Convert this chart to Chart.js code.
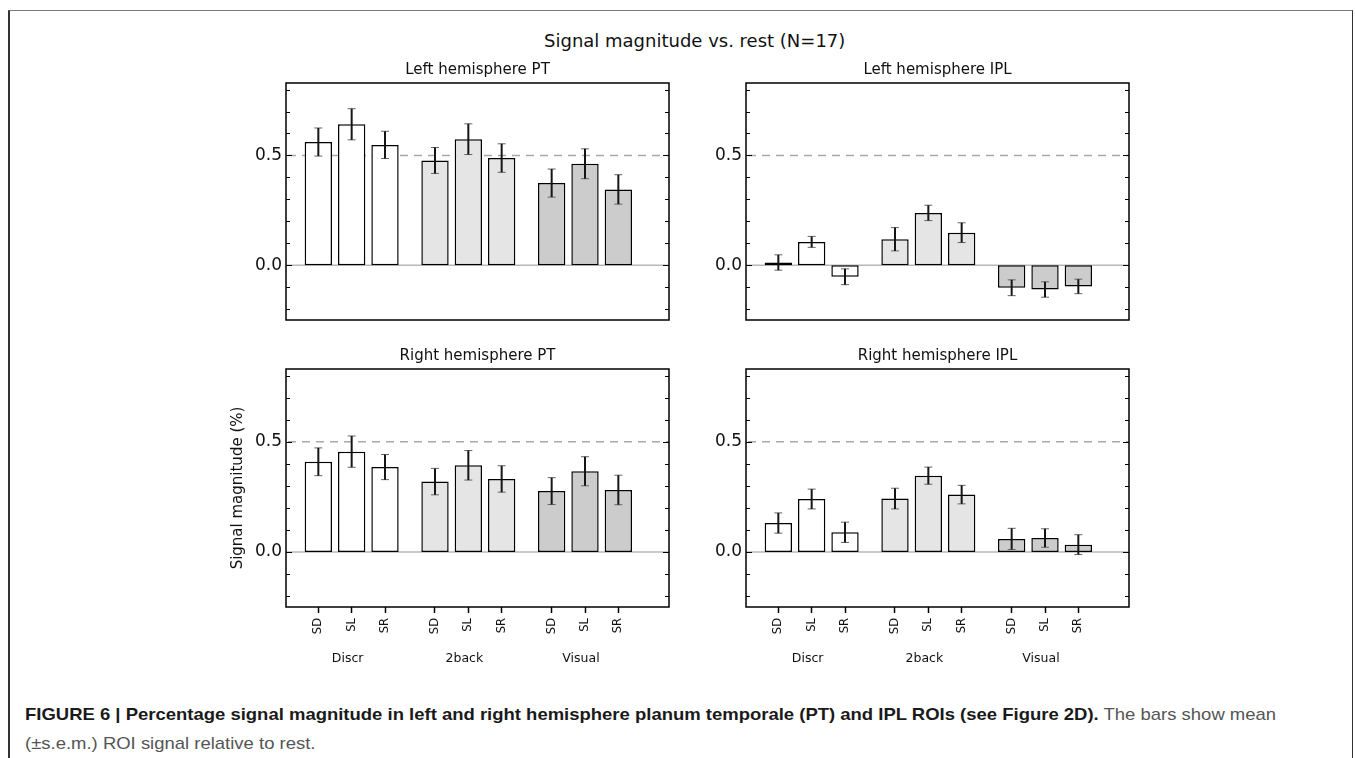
<!DOCTYPE html>
<html>
<head>
<meta charset="utf-8">
<script src="https://cdn.jsdelivr.net/npm/chart.js@4.4.1/dist/chart.umd.min.js"></script>
<style>
  html, body { margin: 0; padding: 0; background: #fff; }
  body { width: 1355px; height: 758px; position: relative; overflow: hidden; font-family: 'DejaVu Sans', sans-serif; }
  .frame { position: absolute; left: 8px; top: 10px; width: 1342px; height: 780px;
           border-top: 1.5px solid #7a7a7a; border-left: 2px solid #333; border-right: 1px solid #333; }
  canvas { position: absolute; }
  #mainTitle { position: absolute; left: 294.7px; width: 800px; top: 30px; text-align: center;
               font-size: 18px; line-height: 22px; color: #111; white-space: nowrap; }
  #caption { position: absolute; left: 25px; top: 700px; white-space: nowrap;
             font-family: 'Liberation Sans', Arial, sans-serif; font-size: 17px; line-height: 29px;
             color: #555; transform: scaleX(1.087); transform-origin: 0 0; }
  #caption b { color: #1a1a1a; }
</style>
</head>
<body>
<div class="frame"></div>
<div id="mainTitle">Signal magnitude vs. rest (N=17)</div>
<canvas id="lhPt"></canvas>
<canvas id="lhIpl"></canvas>
<canvas id="rhPt"></canvas>
<canvas id="rhIpl"></canvas>
<div id="caption"><b>FIGURE 6 | Percentage signal magnitude in left and right hemisphere planum temporale (PT) and IPL ROIs (see Figure 2D).</b> The bars show mean<br>(±s.e.m.) ROI signal relative to rest.</div>
<script>
const conditions = ['SD', 'SL', 'SR'];
const tasks = ['Discr', '2back', 'Visual'];
const yTickValues = [0, 0.5];
const refLevel = 0.5;

// means and s.e.m., order: Discr SD/SL/SR, 2back SD/SL/SR, Visual SD/SL/SR
const lhPtMean = [0.561, 0.642, 0.548, 0.477, 0.574, 0.488, 0.374, 0.462, 0.345];
const lhPtSem  = [0.064, 0.071, 0.062, 0.059, 0.070, 0.065, 0.064, 0.068, 0.067];
const lhIplMean = [0.012, 0.106, -0.053, 0.118, 0.238, 0.148, -0.103, -0.111, -0.097];
const lhIplSem  = [0.035, 0.025, 0.036, 0.053, 0.035, 0.045, 0.036, 0.035, 0.033];
const rhPtMean = [0.409, 0.455, 0.385, 0.319, 0.393, 0.331, 0.276, 0.366, 0.281];
const rhPtSem  = [0.063, 0.071, 0.057, 0.060, 0.067, 0.060, 0.061, 0.066, 0.067];
const rhIplMean = [0.131, 0.240, 0.089, 0.242, 0.346, 0.260, 0.059, 0.063, 0.033];
const rhIplSem  = [0.046, 0.045, 0.046, 0.047, 0.039, 0.042, 0.048, 0.042, 0.045];

const taskFills = ['#ffffff', '#e5e5e5', '#cccccc'];
const Y_AXIS_W = 86;
const TITLE_H = 22;

// bars sit one unit apart inside a task, tasks are 3.5 units apart
const xPos = [];
const xLabels = [];
tasks.forEach((t, g) => conditions.forEach((c, i) => { xPos.push(g * 3.5 + i); xLabels.push(c); }));

const decor = {
  id: 'decor',
  beforeDatasetsDraw(chart) {
    const { ctx, chartArea: a, scales: { y } } = chart;
    ctx.save();
    ctx.lineWidth = 1.5;
    ctx.strokeStyle = '#b8b8b8';
    const y0 = y.getPixelForValue(0);
    ctx.beginPath(); ctx.moveTo(a.left, y0); ctx.lineTo(a.right, y0); ctx.stroke();
    ctx.strokeStyle = '#a8a8a8';
    ctx.setLineDash([8, 6]);
    ctx.lineDashOffset = -16;
    const yr = y.getPixelForValue(refLevel);
    ctx.beginPath(); ctx.moveTo(a.left, yr); ctx.lineTo(a.right, yr); ctx.stroke();
    ctx.restore();
  },
  afterDatasetsDraw(chart, args, opts) {
    const { ctx, chartArea: a, scales: { x, y } } = chart;
    const meta = chart.getDatasetMeta(0);
    ctx.save();
    // error bars
    meta.data.forEach((bar, i) => {
      const m = opts.mean[i], s = opts.sem[i];
      const yt = y.getPixelForValue(m + s), yb = y.getPixelForValue(m - s);
      ctx.strokeStyle = '#666';
      ctx.lineWidth = 1;
      ctx.beginPath();
      ctx.moveTo(bar.x - 4, yt); ctx.lineTo(bar.x + 4, yt);
      ctx.moveTo(bar.x - 4, yb); ctx.lineTo(bar.x + 4, yb);
      ctx.stroke();
      ctx.strokeStyle = '#151515';
      ctx.lineWidth = 2;
      ctx.beginPath(); ctx.moveTo(bar.x, yt); ctx.lineTo(bar.x, yb); ctx.stroke();
    });
    // inward ticks on both sides every 0.1
    ctx.strokeStyle = '#000';
    ctx.lineWidth = 1;
    for (let k = -2; k <= 8; k++) {
      const v = k / 10;
      const py = Math.round(y.getPixelForValue(v)) + 0.5;
      const len = yTickValues.includes(v) ? 6 : 4;
      ctx.beginPath();
      ctx.moveTo(a.left, py); ctx.lineTo(a.left + len, py);
      ctx.moveTo(a.right, py); ctx.lineTo(a.right - len, py);
      ctx.stroke();
    }
    // frame
    ctx.lineWidth = 1.5;
    ctx.strokeRect(a.left, a.top, a.right - a.left, a.bottom - a.top);
    // task labels under the condition ticks
    if (opts.showX) {
      ctx.fillStyle = '#111';
      ctx.font = '12.5px "DejaVu Sans"';
      ctx.textAlign = 'center';
      ctx.textBaseline = 'middle';
      tasks.forEach((t, g) => ctx.fillText(t, x.getPixelForValue(g * 3.5 + 1) - 4, a.bottom + 52));
    }
    ctx.restore();
  }
};

function makePanel(id, title, mean, sem, left, top, showX, yTitle) {
  const canvas = document.getElementById(id);
  const xAxisH = showX ? 75 : 0;
  const plotW = 383, plotH = showX ? 238 : 237;
  canvas.width = Y_AXIS_W + plotW + 2;
  canvas.height = TITLE_H + plotH + xAxisH + 2;
  canvas.style.left = (left - Y_AXIS_W) + 'px';
  canvas.style.top = (top - TITLE_H) + 'px';
  return new Chart(canvas.getContext('2d'), {
    type: 'bar',
    data: {
      datasets: [{
        data: xPos.map((xv, i) => ({ x: xv, y: mean[i] })),
        backgroundColor: xPos.map((xv, i) => taskFills[Math.floor(i / 3)]),
        borderColor: '#000',
        borderWidth: 1.5,
        borderSkipped: false,
        barPercentage: 0.82,
        categoryPercentage: 1
      }]
    },
    options: {
      responsive: false,
      animation: false,
      devicePixelRatio: 1,
      layout: { padding: { left: 0, right: 2, top: 0, bottom: 2 } },
      plugins: {
        legend: { display: false },
        tooltip: { enabled: false },
        title: {
          display: true, text: title, fullSize: false, color: '#111',
          font: { family: 'DejaVu Sans', size: 15, weight: 'normal', lineHeight: 1.2 },
          padding: { top: 0, bottom: 4 }
        },
        decor: { mean, sem, showX }
      },
      scales: {
        x: {
          type: 'linear', min: -0.97, max: 10.52, offset: false,
          display: showX,
          afterBuildTicks: s => { s.ticks = xPos.map(v => ({ value: v })); },
          afterFit: s => { s.height = xAxisH; s.paddingLeft = 0; s.paddingRight = 0; },
          ticks: {
            autoSkip: false, minRotation: 90, maxRotation: 90, padding: 5, color: '#111',
            font: { family: 'DejaVu Sans', size: 11.5 },
            callback: (v, i) => xLabels[i]
          },
          grid: { drawOnChartArea: false, drawTicks: true, tickLength: 6, tickColor: '#000', tickWidth: 1.5, offset: false },
          border: { display: false }
        },
        y: {
          min: -0.25, max: 0.83,
          afterBuildTicks: s => { s.ticks = yTickValues.map(v => ({ value: v })); },
          afterFit: s => { s.width = Y_AXIS_W; s.paddingTop = 0; s.paddingBottom = 0; },
          ticks: {
            padding: 4, color: '#111',
            font: { family: 'DejaVu Sans', size: 17 },
            callback: v => v.toFixed(1)
          },
          grid: { display: false, drawTicks: false },
          border: { display: false },
          title: {
            display: !!yTitle, text: yTitle || '', color: '#111',
            font: { family: 'DejaVu Sans', size: 15 },
            padding: { top: 29, bottom: 0 }
          }
        }
      }
    },
    plugins: [decor]
  });
}

makePanel('lhPt', 'Left hemisphere PT', lhPtMean, lhPtSem, 286, 83, false);
makePanel('lhIpl', 'Left hemisphere IPL', lhIplMean, lhIplSem, 746, 83, false);
makePanel('rhPt', 'Right hemisphere PT', rhPtMean, rhPtSem, 286, 369, true, 'Signal magnitude (%)');
makePanel('rhIpl', 'Right hemisphere IPL', rhIplMean, rhIplSem, 746, 369, true);
</script>
</body>
</html>
